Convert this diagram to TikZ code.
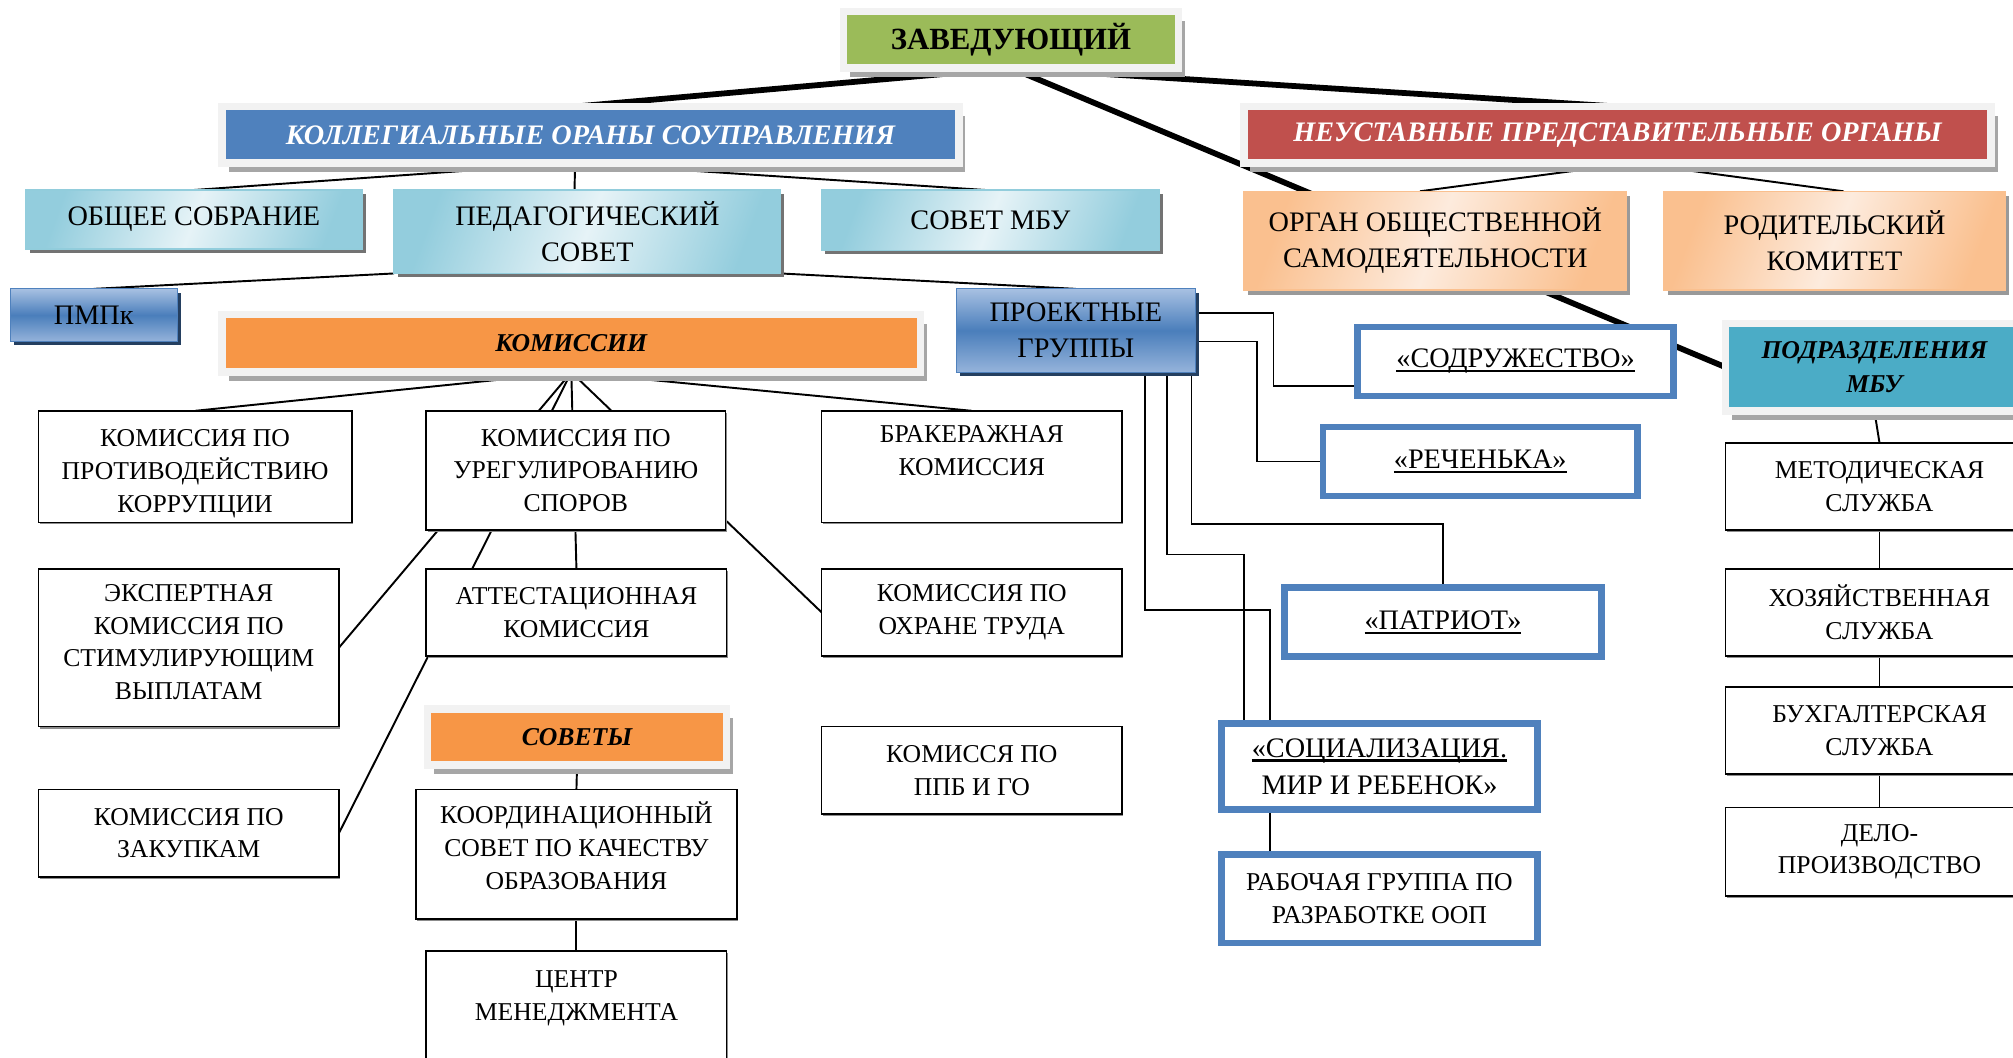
\documentclass[tikz,border=0pt]{standalone}
\usepackage{fontspec}
\setmainfont{Liberation Serif}
\usetikzlibrary{shadows,backgrounds}
\definecolor{zgreen}{HTML}{9BBB59}
\definecolor{kblue}{HTML}{4F81BD}
\definecolor{nred}{HTML}{C0504D}
\definecolor{korange}{HTML}{F79646}
\definecolor{pteal}{HTML}{4BACC6}
\definecolor{frameg}{HTML}{F2F2F2}
\definecolor{lbdark}{HTML}{93CDDD}
\definecolor{lblight}{HTML}{E6F3F7}
\definecolor{lbedge}{HTML}{92CDDC}
\definecolor{pchdark}{HTML}{FAC08F}
\definecolor{pchlight}{HTML}{FDEBDD}
\definecolor{bglight}{HTML}{A7C0E2}
\definecolor{bgdark}{HTML}{4A7EBB}
\definecolor{navyshadow}{HTML}{243F60}
\newcommand\myul[1]{\setbox0\hbox{#1}\rlap{\rule[-3.5pt]{\wd0}{1.6pt}}\box0}
\tikzset{
  basebox/.style={anchor=north west, inner sep=0pt, outer sep=0pt, align=center,
    font=\fontsize{20}{25.5}\selectfont},
  hdrbox/.style={basebox, draw=frameg, line width=6pt,
    general shadow={fill=black!35, shadow xshift=5pt, shadow yshift=-7pt},
    font=\fontsize{22}{26}\selectfont\bfseries\itshape},
  lbbox/.style={basebox, draw=lbedge, line width=1pt, shading=axis,
    top color=lbdark, bottom color=lbdark, middle color=lblight, shading angle=70,
    general shadow={fill=black!55, shadow xshift=3pt, shadow yshift=-3pt},
    font=\fontsize{22}{28}\selectfont},
  pchbox/.style={basebox, draw=pchdark, line width=1pt, shading=axis,
    top color=pchdark, bottom color=pchdark, middle color=pchlight, shading angle=70,
    general shadow={fill=black!40, shadow xshift=3pt, shadow yshift=-4pt},
    font=\fontsize{22}{28}\selectfont},
  bgbox/.style={basebox, draw=kblue, line width=1pt, shading=axis,
    top color=bglight, bottom color=bglight!80!kblue, middle color=bgdark,
    general shadow={fill=navyshadow, shadow xshift=3pt, shadow yshift=-3pt},
    font=\fontsize{22}{28}\selectfont},
  wbox/.style={basebox, draw=black, line width=1.3pt, fill=white,
    general shadow={fill=black!45, shadow xshift=1pt, shadow yshift=-1.5pt}},
  bluebox/.style={basebox, draw=kblue, line width=5pt, fill=white},
  ulbox/.style={bluebox, font=\fontsize{22}{29}\selectfont},
  thickline/.style={line width=4.5pt, black},
  tline/.style={line width=1.5pt, black},
  oline/.style={line width=1.3pt, black},
}
\begin{document}
\begin{tikzpicture}[x=1pt, y=-1pt]
\useasboundingbox (0,0) rectangle (1568,824);
% headers
\node[hdrbox, fill=zgreen, minimum width=261pt, minimum height=44pt, font=\fontsize{24}{28}\selectfont\bfseries] (zav) at (657,9) {ЗАВЕДУЮЩИЙ};
\node[hdrbox, fill=kblue, text=white, minimum width=574pt, minimum height=44pt] (koll) at (173,83) {КОЛЛЕГИАЛЬНЫЕ ОРАНЫ СОУПРАВЛЕНИЯ};
\node[hdrbox, fill=nred, text=white, minimum width=582pt, minimum height=44pt] (neust) at (969,83) {НЕУСТАВНЫЕ ПРЕДСТАВИТЕЛЬНЫЕ ОРГАНЫ};
\node[hdrbox, fill=korange, minimum width=544pt, minimum height=45pt, font=\fontsize{20}{26}\selectfont\bfseries\itshape] (kom) at (173,245) {КОМИССИИ};
\node[hdrbox, fill=korange, minimum width=233pt, minimum height=44pt, font=\fontsize{20}{26}\selectfont\bfseries\itshape] (sovety) at (333,552) {СОВЕТЫ};
\node[hdrbox, fill=pteal, minimum width=232pt, minimum height=68pt, font=\fontsize{20}{26}\selectfont\bfseries\itshape] (podr) at (1344,252) {ПОДРАЗДЕЛЕНИЯ\\МБУ};
% light blue
\node[lbbox, minimum width=262pt, minimum height=46pt] (obs) at (20,148) {ОБЩЕЕ СОБРАНИЕ};
\node[lbbox, minimum width=301pt, minimum height=65pt] (ped) at (307,148) {ПЕДАГОГИЧЕСКИЙ\\СОВЕТ};
\node[lbbox, minimum width=263pt, minimum height=47pt] (sov) at (640,148) {СОВЕТ МБУ};
% peach
\node[pchbox, minimum width=298pt, minimum height=77pt] (org) at (969,149) {ОРГАН ОБЩЕСТВЕННОЙ\\САМОДЕЯТЕЛЬНОСТИ};
\node[pchbox, minimum width=266pt, minimum height=77pt] (rod) at (1296,149) {РОДИТЕЛЬСКИЙ\\КОМИТЕТ};
% blue gradient
\node[bgbox, minimum width=130pt, minimum height=41pt] (pmpk) at (8,225) {ПМПк};
\node[bgbox, minimum width=186pt, minimum height=65pt] (proj) at (745,225) {ПРОЕКТНЫЕ\\ГРУППЫ};
% blue bordered
\node[ulbox, minimum width=246pt, minimum height=54pt] (sod) at (1057.5,254.5) {\myul{«СОДРУЖЕСТВО»}};
\node[ulbox, minimum width=245pt, minimum height=54pt] (rech) at (1030.5,332.5) {\myul{«РЕЧЕНЬКА»}};
\node[ulbox, minimum width=247pt, minimum height=54pt] (pat) at (1000.5,457.5) {\myul{«ПАТРИОТ»}};
\node[ulbox, minimum width=246pt, minimum height=67pt] (soc) at (951.5,563.5) {\myul{«СОЦИАЛИЗАЦИЯ.}\\МИР И РЕБЕНОК»};
\node[bluebox, minimum width=246pt, minimum height=69pt] (rab) at (951.5,665.5) {РАБОЧАЯ ГРУППА ПО\\РАЗРАБОТКЕ ООП};
% white boxes
\node[wbox, minimum width=244pt, minimum height=87pt] (prot) at (30,320) {\rule{0pt}{24pt}КОМИССИЯ ПО\\ПРОТИВОДЕЙСТВИЮ\\КОРРУПЦИИ};
\node[wbox, minimum width=233pt, minimum height=93pt] (urg) at (332,320) {КОМИССИЯ ПО\\УРЕГУЛИРОВАНИЮ\\СПОРОВ};
\node[wbox, minimum width=234pt, minimum height=87pt] (br) at (640,320) {БРАКЕРАЖНАЯ\\КОМИССИЯ\\\mbox{}};
\node[wbox, minimum width=234pt, minimum height=123pt] (eksp) at (30,443) {ЭКСПЕРТНАЯ\\КОМИССИЯ ПО\\СТИМУЛИРУЮЩИМ\\ВЫПЛАТАМ\rule[-9pt]{0pt}{9pt}};
\node[wbox, minimum width=234pt, minimum height=68pt] (att) at (332,443) {АТТЕСТАЦИОННАЯ\\КОМИССИЯ};
\node[wbox, minimum width=234pt, minimum height=68pt] (ohr) at (640,443) {КОМИССИЯ ПО\\ОХРАНЕ ТРУДА};
\node[wbox, minimum width=234pt, minimum height=68pt] (ppb) at (640,566) {КОМИССЯ ПО\\ППБ И ГО};
\node[wbox, minimum width=234pt, minimum height=68pt] (zak) at (30,615) {КОМИССИЯ ПО\\ЗАКУПКАМ};
\node[wbox, minimum width=250pt, minimum height=101pt] (koord) at (324,615) {КООРДИНАЦИОННЫЙ\\СОВЕТ ПО КАЧЕСТВУ\\ОБРАЗОВАНИЯ\rule[-14pt]{0pt}{14pt}};
\node[wbox, minimum width=234pt, minimum height=94pt] (centr) at (332,741) {ЦЕНТР\\МЕНЕДЖМЕНТА\\\mbox{}};
\node[wbox, minimum width=240pt, minimum height=68pt] (met) at (1344,345) {МЕТОДИЧЕСКАЯ\\СЛУЖБА};
\node[wbox, minimum width=240pt, minimum height=68pt] (hoz) at (1344,443) {ХОЗЯЙСТВЕННАЯ\\СЛУЖБА};
\node[wbox, minimum width=240pt, minimum height=68pt] (buh) at (1344,535) {БУХГАЛТЕРСКАЯ\\СЛУЖБА};
\node[wbox, minimum width=240pt, minimum height=69pt] (delo) at (1344,629) {ДЕЛО-\\ПРОИЗВОДСТВО};
% connectors
\begin{pgfonlayer}{background}
\draw[thickline] (zav.south) -- ([xshift=-12pt]koll.north);
\draw[thickline] (zav.south) -- (neust.north);
\draw[thickline] (zav.south) -- (podr.west);
\draw[tline] ([xshift=-12pt]koll.south) -- (obs.north);
\draw[tline] ([xshift=-12pt]koll.south) -- ([xshift=-10pt]ped.north);
\draw[tline] ([xshift=-12pt]koll.south) -- ([xshift=-4pt]sov.north);
\draw[tline] ([xshift=12pt]neust.south) -- ([xshift=-12pt]org.north);
\draw[tline] ([xshift=12pt]neust.south) -- ([xshift=7pt]rod.north);
\draw[tline] (ped.south west) -- (pmpk.north);
\draw[tline] (ped.south east) -- (proj.north);
\draw[tline] (kom.south) -- (prot.north);
\draw[tline] (kom.south) -- (br.north);
\draw[tline] (kom.south) -- (att.north);
\draw[tline] (kom.south) -- (eksp.east);
\draw[tline] (kom.south) -- (zak.east);
\draw[tline] (kom.south) -- (ohr.west);
\draw[tline] (sovety.south) -- (koord.north);
\draw[tline] (koord.south) -- (centr.north);
\draw[tline] (podr.south) -- (met.north);
\draw[tline] (met.south) -- (hoz.north);
\draw[tline] (hoz.south) -- (buh.north);
\draw[tline] (buh.south) -- (delo.north);
\draw[tline] ([xshift=-85.5pt]soc.south) -- ([xshift=-85.5pt]rab.north);
\draw[oline] ([yshift=13.5pt]proj.east) -- ++(61,0) |- ([yshift=-19pt]sod.west);
\draw[oline] ([yshift=-8.5pt]proj.east) -- ++(48,0) |- (rech.west);
\draw[oline] ([xshift=-3pt]proj.south east) -- ++(0,118) -| (pat.north);
\draw[oline] ([xshift=-22pt]proj.south east) -- ++(0,142) -| ([xshift=-105.5pt]soc.north);
\draw[oline] ([xshift=-39pt]proj.south east) -- ++(0,185) -| ([xshift=-85.5pt]soc.north);
\end{pgfonlayer}
\end{tikzpicture}
\end{document}
